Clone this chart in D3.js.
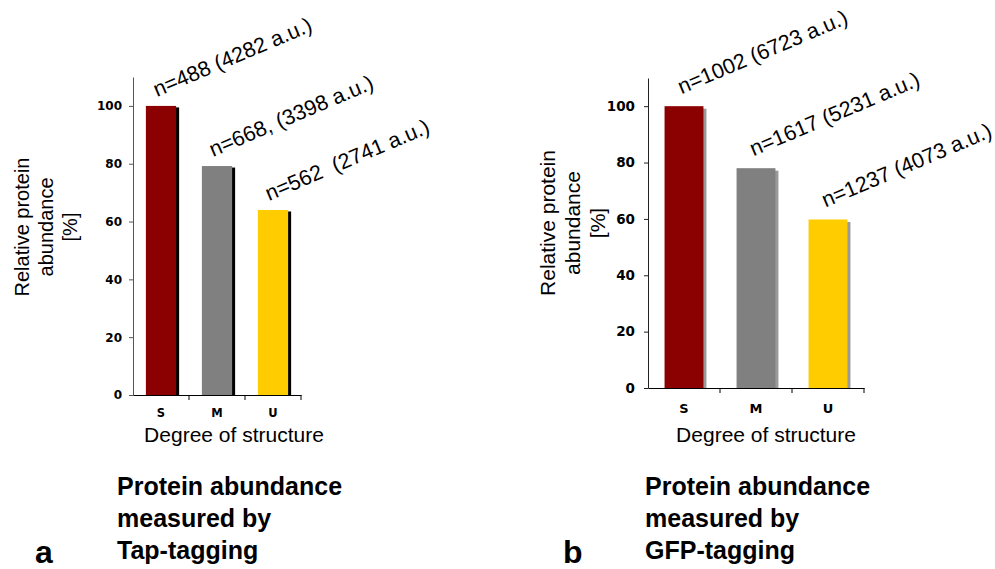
<!DOCTYPE html>
<html>
<head>
<meta charset="utf-8">
<script src="https://cdn.jsdelivr.net/npm/d3@7"></script>
<style>
    body { margin: 0; background: #fff; }
    svg text { font-family: "Liberation Sans", Arial, sans-serif; fill: #000; }
    .tick text { font-family: "DejaVu Sans", Verdana, sans-serif; font-weight: bold; }
    .barLabel { white-space: pre; }
</style>
</head>
<body>
<svg id="chart" width="995" height="569"></svg>
<script>
/* ------------------------- DATA ------------------------- */

var categories = ["S", "M", "U"]
var barColors = ["#8b0000", "#808080", "#ffcc00"]
var yTicks = [0, 20, 40, 60, 80, 100]

var tapValues = [100, 79.2, 64]
var tapLabels = ["n=488 (4282 a.u.)", "n=668, (3398 a.u.)", "n=562  (2741 a.u.)"]

var gfpValues = [100, 78, 59.8]
var gfpLabels = ["n=1002 (6723 a.u.)", "n=1617 (5231 a.u.)", "n=1237 (4073 a.u.)"]

var svg = d3.select("#chart")

/* ------------------------- PANELS ------------------------- */

var panels = [
    {
        values: tapValues, labels: tapLabels, letter: "a",
        title: ["Protein abundance", "measured by", "Tap-tagging"],
        x0: 133, x1: 301, yBottom: 395, yTop: 77,
        shadow: "#000", shadowDx: 3, shadowDy: 1.5,
        tickFont: 12, tickPad: 11, xLabelY: 417,
        yTitleX: [29, 53, 77], yTitleY: 227, yTitleFont: 20,
        xTitleX: 234, labelDx: 11, labelDy: -9,
        letterX: 35, titleX: 117, axisColor: "#555"
    },
    {
        values: gfpValues, labels: gfpLabels, letter: "b",
        title: ["Protein abundance", "measured by", "GFP-tagging"],
        x0: 648, x1: 864, yBottom: 388, yTop: 78,
        shadow: "#9a9a9a", shadowDx: 3, shadowDy: 2.5,
        tickFont: 13.5, tickPad: 13, xLabelY: 413,
        yTitleX: [555, 580, 605], yTitleY: 223, yTitleFont: 21,
        xTitleX: 766, labelDx: 17, labelDy: -12,
        letterX: 563, titleX: 645, axisColor: "#222"
    }
]

panels.forEach(drawPanel)

function drawPanel(p) {
    let g = svg.append("g")

    let x = d3.scaleBand()
        .domain(categories)
        .range([p.x0, p.x1])
        .paddingInner(0.46)
        .paddingOuter(0.23)

    let y = d3.scaleLinear()
        .domain([0, 110])
        .range([p.yBottom, p.yTop])

    /* --------------------- BARS --------------------- */

    let bars = g.append("g").selectAll("g")
        .data(p.values)
        .enter().append("g")

    bars.append("rect")     // ombra
        .attr("x", function (d, i) { return x(categories[i]) + p.shadowDx })
        .attr("y", function (d) { return y(d) + p.shadowDy })
        .attr("width", x.bandwidth())
        .attr("height", function (d) { return y(0) - y(d) - p.shadowDy })
        .attr("fill", p.shadow)

    bars.append("rect")
        .attr("x", function (d, i) { return x(categories[i]) })
        .attr("y", function (d) { return y(d) })
        .attr("width", x.bandwidth())
        .attr("height", function (d) { return y(0) - y(d) })
        .attr("fill", function (d, i) { return barColors[i] })

    /* --------------------- AXES --------------------- */

    let yAxis = g.append("g")
        .attr("transform", "translate(" + p.x0 + ",0)")
        .call(d3.axisLeft(y).tickValues(yTicks).tickSize(4).tickPadding(p.tickPad - 4).tickSizeOuter(0))
    yAxis.selectAll("text").style("font-size", p.tickFont + "px")
    yAxis.selectAll("path, line").attr("stroke", p.axisColor)

    let xAxis = g.append("g")
        .attr("transform", "translate(0," + y(0) + ")")
        .call(d3.axisBottom(x).tickSize(0).tickPadding(0).tickSizeOuter(0))
    xAxis.select(".domain").attr("stroke", "#000")
    xAxis.selectAll("text")
        .attr("dy", null)
        .attr("y", p.xLabelY - y(0))
        .style("font-size", (p.tickFont - 0.5) + "px")

    // tick ai bordi delle categorie
    let edges = categories.map(function (c) { return x(c) + x.bandwidth() + x.step() * x.paddingOuter() })
    xAxis.selectAll("line.edge")
        .data(edges)
        .enter().append("line")
        .attr("class", "edge")
        .attr("x1", function (d) { return d }).attr("x2", function (d) { return d })
        .attr("y1", 0).attr("y2", 5)
        .attr("stroke", "#000")

    /* --------------------- LABELS --------------------- */

    g.append("g").selectAll("text")
        .data(p.labels)
        .enter().append("text")
        .attr("class", "barLabel")
        .attr("transform", function (d, i) {
            return "translate(" + (x(categories[i]) + p.labelDx) + "," + (y(p.values[i]) + p.labelDy) + ") rotate(-23)"
        })
        .style("font-size", "21.5px")
        .text(function (d) { return d })

    let yTitle = ["Relative protein", "abundance", "[%]"]
    g.append("g").selectAll("text")
        .data(yTitle)
        .enter().append("text")
        .attr("transform", function (d, i) { return "translate(" + p.yTitleX[i] + "," + p.yTitleY + ") rotate(-90)" })
        .attr("text-anchor", "middle")
        .style("font-size", p.yTitleFont + "px")
        .text(function (d) { return d })

    g.append("text")
        .attr("x", p.xTitleX)
        .attr("y", 442)
        .attr("text-anchor", "middle")
        .style("font-size", "21px")
        .text("Degree of structure")

    g.append("g").selectAll("text")
        .data(p.title)
        .enter().append("text")
        .attr("x", p.titleX)
        .attr("y", function (d, i) { return 495 + i * 32 })
        .style("font-size", "25px")
        .style("font-weight", "bold")
        .text(function (d) { return d })

    g.append("text")
        .attr("x", p.letterX)
        .attr("y", 563)
        .style("font-size", "32px")
        .style("font-weight", "bold")
        .text(p.letter)
}
</script>
</body>
</html>
